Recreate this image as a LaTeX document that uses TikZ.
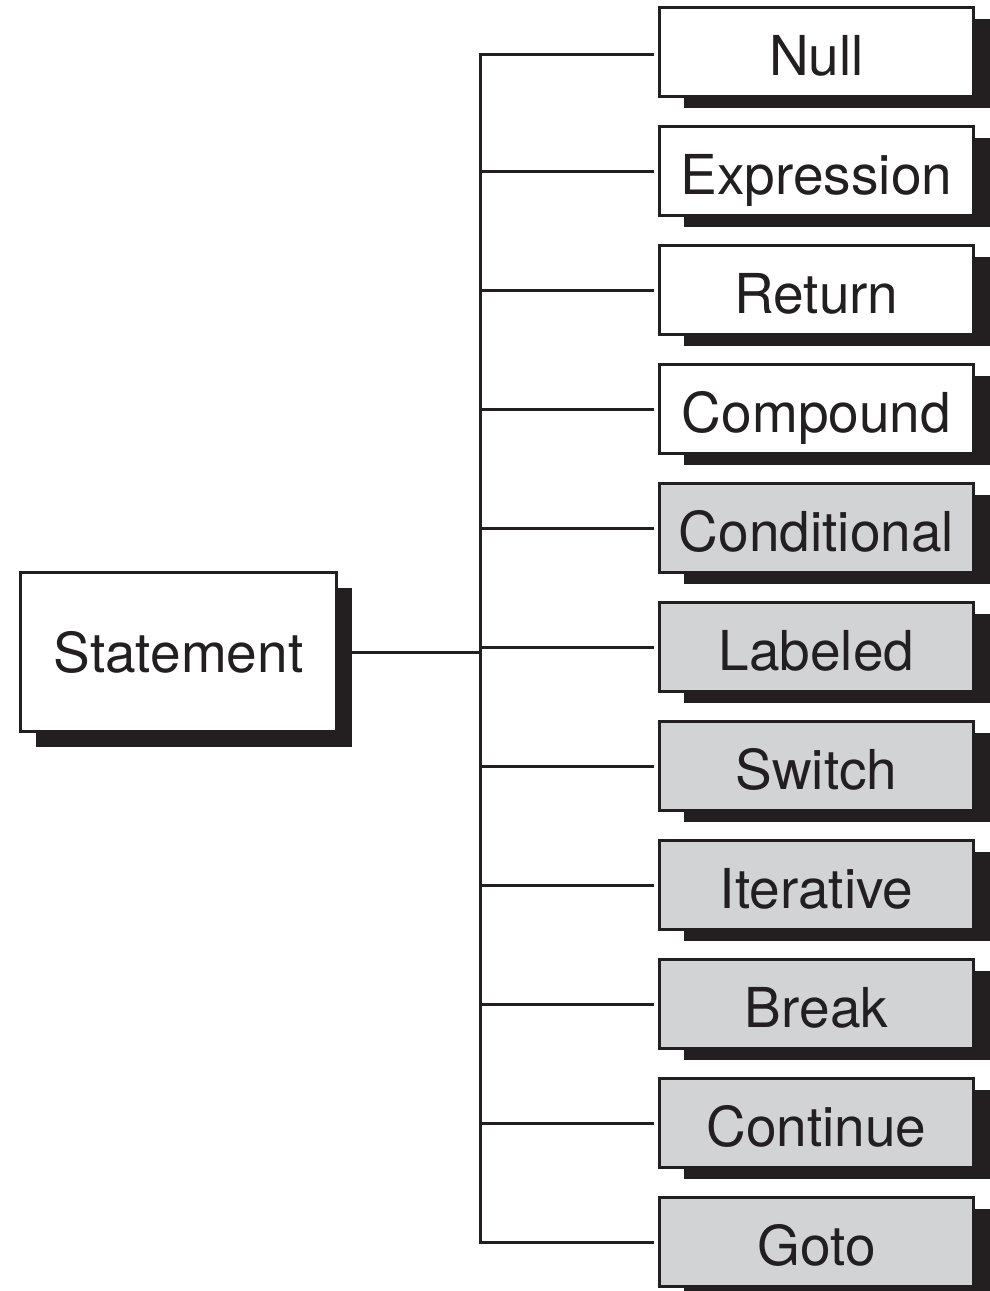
\documentclass[tikz,border=0pt]{standalone}
\usepackage{fontspec}
\setmainfont{TeX Gyre Heros}
\usetikzlibrary{shadows}
\definecolor{ink}{RGB}{35,31,32}
\definecolor{boxgray}{RGB}{209,211,212}
\begin{document}
\begin{tikzpicture}[x=1pt,y=-1pt,
  basebox/.style={draw=ink, line width=3pt, inner sep=0pt, text=ink,
    font=\fontsize{55}{60}\selectfont},
  kindbox/.style={basebox, minimum width=314pt, minimum height=89pt,
    text height=46pt, text depth=0pt,
    drop shadow={shadow xshift=24pt, shadow yshift=-11pt, fill=ink, opacity=1}},
  whitebox/.style={kindbox, fill=white},
  graybox/.style={kindbox, fill=boxgray},
  rootbox/.style={basebox, fill=white, minimum width=316pt, minimum height=159pt,
    text height=40pt, text depth=0pt,
    drop shadow={shadow xshift=15pt, shadow yshift=-15pt, fill=ink, opacity=1}},
  conn/.style={draw=ink, line width=3pt}
]
\useasboundingbox (0,0) rectangle (989,1291);
\node[rootbox] (st) at (178.5,652) {Statement};
\node[whitebox] (n1) at (816.5,52) {Null};
\node[whitebox] (n2) at (816.5,171) {Expression};
\node[whitebox] (n3) at (816.5,290) {Return};
\node[whitebox] (n4) at (816.5,409) {Compound};
\node[graybox] (n5) at (816.5,528) {Conditional};
\node[graybox] (n6) at (816.5,647) {Labeled};
\node[graybox] (n7) at (816.5,766) {Switch};
\node[graybox] (n8) at (816.5,885) {Iterative};
\node[graybox] (n9) at (816.5,1004) {Break};
\node[graybox] (n10) at (816.5,1123) {Continue};
\node[graybox] (n11) at (816.5,1242) {Goto};
\coordinate (ttop) at (480,54);
\coordinate (tbot) at (480,1242);
\draw[conn, line cap=rect] (ttop) -- (tbot);
\foreach \n in {n2,n3,n4,n5,n6,n7,n8,n9,n10,n11}
  \draw[conn] (\n.west -| ttop) -- ([xshift=-4pt]\n.west);
\draw[conn] (ttop) -- ([xshift=-4pt]n1.west |- ttop);
\draw[conn] (st.east) -- (st.east -| ttop);
\end{tikzpicture}
\end{document}
